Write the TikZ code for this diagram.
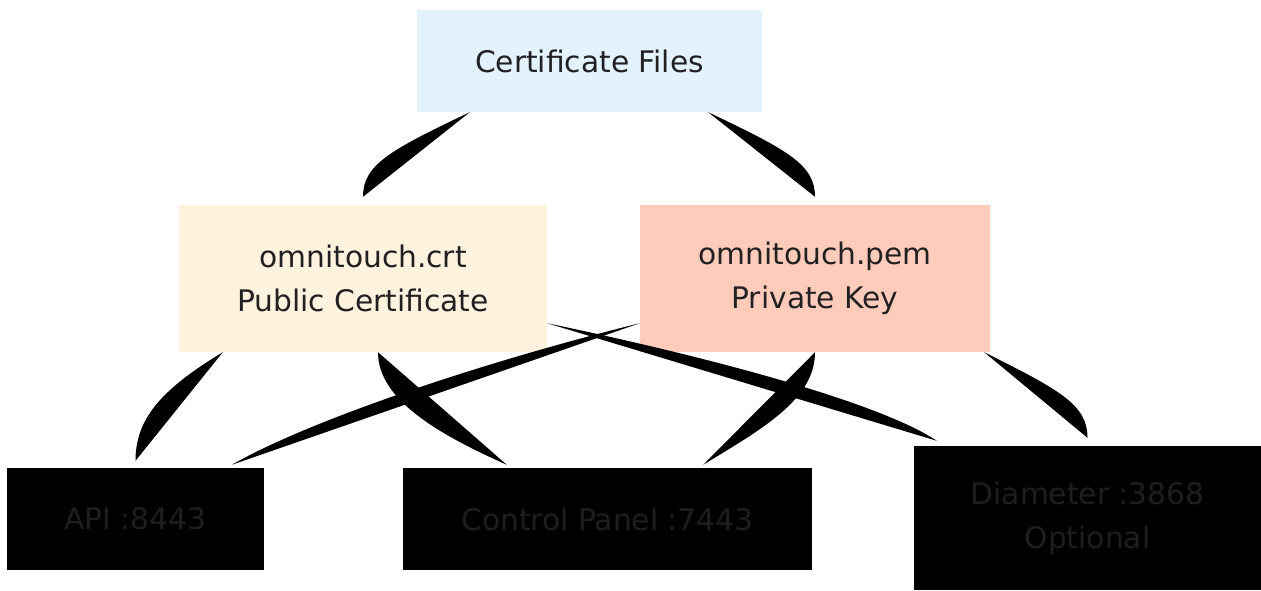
\documentclass[tikz,border=0pt]{standalone}
\usepackage{fontspec}
\setmainfont{DejaVu Sans}
\definecolor{certfill}{HTML}{E3F2FD}
\definecolor{crtfill}{HTML}{FFF3E0}
\definecolor{pemfill}{HTML}{FFCCBC}
\definecolor{txt}{HTML}{212121}
\definecolor{dtxt}{HTML}{1E1E1E}
\tikzset{
  box/.style={rectangle, inner sep=0pt, align=center, text=txt,
    font=\fontsize{29.7}{44}\selectfont},
  darkbox/.style={box, fill=black, text=dtxt},
  edgeshape/.style={fill=black}
}
\begin{document}
\begin{tikzpicture}[x=1pt,y=-1pt]
\useasboundingbox (0,0) rectangle (1261,590);
% nodes
\node[box, fill=certfill, minimum width=345pt, minimum height=102pt] (cert) at (589.5,61) {Certificate Files};
\node[box, fill=crtfill, minimum width=368pt, minimum height=147pt] (crt) at (363,278.5) {omnitouch.crt\\Public Certificate};
\node[box, fill=pemfill, minimum width=350pt, minimum height=147pt] (pem) at (815,278.5) {omnitouch.pem\\Private Key};
\node[darkbox, minimum width=257pt, minimum height=102pt] (api) at (135.5,519) {API :8443};
\node[darkbox, minimum width=409pt, minimum height=102pt] (cp) at (607.5,519) {Control Panel :7443};
\node[darkbox, minimum width=347pt, minimum height=144pt] (dia) at (1087.5,518) {Diameter :3868\\Optional};
% connectors
\fill[edgeshape] ([xshift=53pt]cert.south west) .. controls +(-80,38) and +(0,-32) .. ([yshift=8pt]crt.north) -- cycle;
\fill[edgeshape] ([xshift=-54pt]cert.south east) .. controls +(80,38) and +(0,-32) .. ([yshift=8pt]pem.north) -- cycle;
\fill[edgeshape] ([xshift=44pt]crt.south west) .. controls +(-63,38) and +(0,-41) .. ([yshift=7pt]api.north) -- cycle;
\fill[edgeshape] ([xshift=15pt]crt.south) .. controls +(0,48) and +(-67,-30) .. ([xshift=104pt,yshift=3pt]cp.north west) -- cycle;
\fill[edgeshape] ([yshift=29pt]crt.south east) .. controls +(153,32) and +(-60,-40) .. ([xshift=23pt,yshift=5pt]dia.north west) -- cycle;
\fill[edgeshape] ([yshift=29pt]pem.south west) .. controls +(-150,37) and +(80,-46) .. ([xshift=225pt,yshift=3pt]api.north west) -- cycle;
\fill[edgeshape] (pem.south) .. controls +(0,48) and +(57,-35) .. ([xshift=-109pt,yshift=3pt]cp.north east) -- cycle;
\fill[edgeshape] ([xshift=-6pt]pem.south east) .. controls +(76,38) and +(0,-33) .. ([yshift=8pt]dia.north) -- cycle;
\end{tikzpicture}
\end{document}
